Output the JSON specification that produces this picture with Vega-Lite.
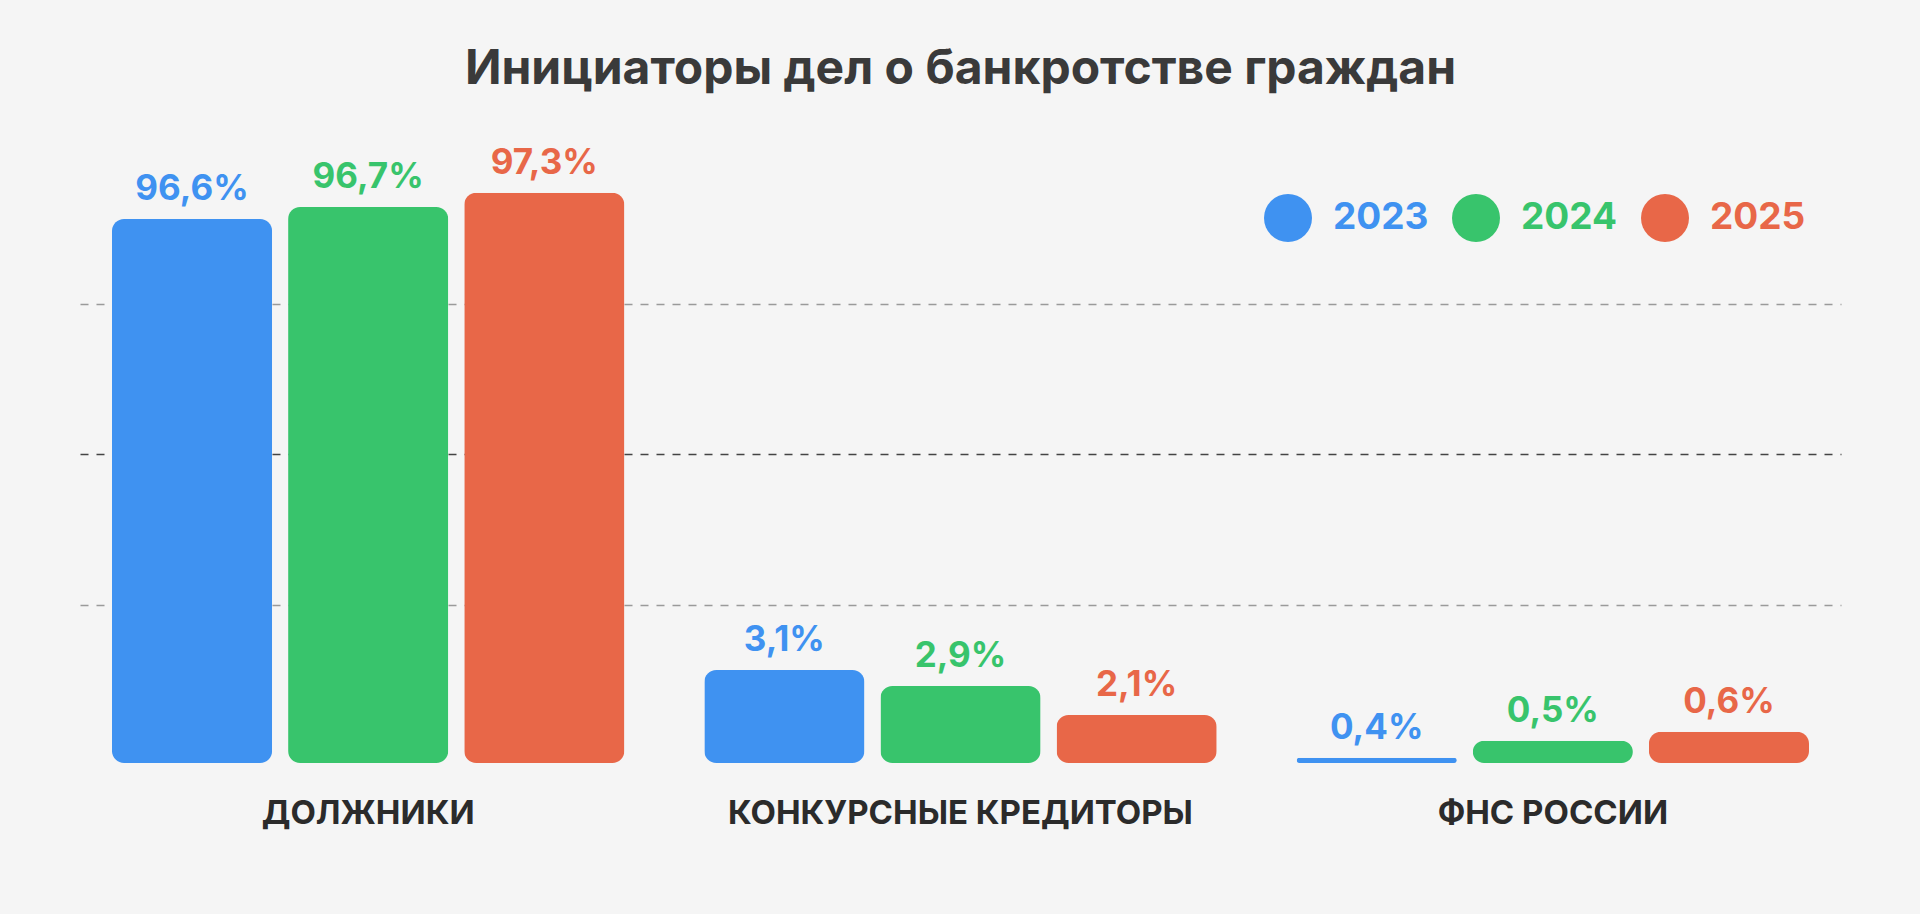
{
  "$schema": "https://vega.github.io/schema/vega-lite/v6.json",
  "width": 1761,
  "height": 663,
  "autosize": "none",
  "padding": {"left": 80, "top": 100, "right": 79, "bottom": 151},
  "background": "#f5f5f5",
  "title": {
    "text": "Инициаторы дел о банкротстве граждан",
    "font": "Inter",
    "fontSize": 48,
    "fontWeight": "bold",
    "color": "#3a3a3a",
    "anchor": "middle",
    "baseline": "alphabetic",
    "offset": -32
  },
  "data": {
    "values": [
      {"initiator": "ДОЛЖНИКИ", "year": "2023", "share": 96.6},
      {"initiator": "ДОЛЖНИКИ", "year": "2024", "share": 96.7},
      {"initiator": "ДОЛЖНИКИ", "year": "2025", "share": 97.3},
      {"initiator": "КОНКУРСНЫЕ КРЕДИТОРЫ", "year": "2023", "share": 3.1},
      {"initiator": "КОНКУРСНЫЕ КРЕДИТОРЫ", "year": "2024", "share": 2.9},
      {"initiator": "КОНКУРСНЫЕ КРЕДИТОРЫ", "year": "2025", "share": 2.1},
      {"initiator": "ФНС РОССИИ", "year": "2023", "share": 0.4},
      {"initiator": "ФНС РОССИИ", "year": "2024", "share": 0.5},
      {"initiator": "ФНС РОССИИ", "year": "2025", "share": 0.6}
    ]
  },
  "transform": [
    {"calculate": "replace(format(datum.share, '.1f'), '.', ',') + '%'", "as": "label"}
  ],
  "encoding": {
    "x": {
      "field": "initiator",
      "type": "nominal",
      "sort": ["ДОЛЖНИКИ", "КОНКУРСНЫЕ КРЕДИТОРЫ", "ФНС РОССИИ"],
      "scale": {"paddingInner": 0.135, "paddingOuter": 0.054},
      "axis": {
        "title": null,
        "domain": false,
        "ticks": false,
        "labelAngle": 0,
        "labelLimit": 0,
        "labelPadding": 60,
        "labelBaseline": "alphabetic",
        "labelFont": "Inter",
        "labelFontSize": 33,
        "labelFontWeight": "bold",
        "labelColor": "#2b2b2b"
      }
    },
    "xOffset": {
      "field": "year",
      "type": "nominal",
      "scale": {"paddingInner": 0.0909, "paddingOuter": 0}
    },
    "y": {
      "field": "share",
      "type": "quantitative",
      "scale": {
        "nice": false,
        "domain": [0, 0.4, 0.5, 0.6, 2.1, 2.9, 3.1, 25, 50, 75, 96.6, 96.7, 97.3],
        "range": [663, 657.7, 640.7, 631.7, 615, 586, 570, 505, 354.3, 203.5, 119, 107, 92.7]
      },
      "axis": {
        "title": null,
        "values": [25, 50, 75],
        "domain": false,
        "ticks": false,
        "labels": false,
        "grid": true,
        "gridDash": [8, 8],
        "gridWidth": 1.5,
        "gridColor": {
          "condition": {"test": "datum.value === 50", "value": "#444444"},
          "value": "#9a9a9a"
        }
      }
    },
    "color": {
      "field": "year",
      "type": "nominal",
      "scale": {
        "domain": ["2023", "2024", "2025"],
        "range": ["#3f92f1", "#38c46c", "#e86748"]
      },
      "legend": {
        "title": null,
        "orient": "none",
        "legendX": 1184,
        "legendY": 94,
        "direction": "horizontal",
        "padding": 0,
        "symbolType": "circle",
        "symbolSize": 2304,
        "symbolStrokeWidth": 0,
        "symbolOpacity": 1,
        "labelFont": "Inter",
        "labelFontSize": 37,
        "labelFontWeight": "bold",
        "labelOffset": 21,
        "columnPadding": 23,
        "encode": {
          "labels": {"update": {"fill": {"scale": "color", "field": "value"}}}
        }
      }
    }
  },
  "layer": [
    {"mark": {"type": "bar", "cornerRadius": 12}},
    {
      "mark": {
        "type": "text",
        "dy": -19,
        "baseline": "alphabetic",
        "font": "Inter",
        "fontSize": 35,
        "fontWeight": "bold"
      },
      "encoding": {"text": {"field": "label"}}
    }
  ],
  "config": {"view": {"stroke": null}}
}
